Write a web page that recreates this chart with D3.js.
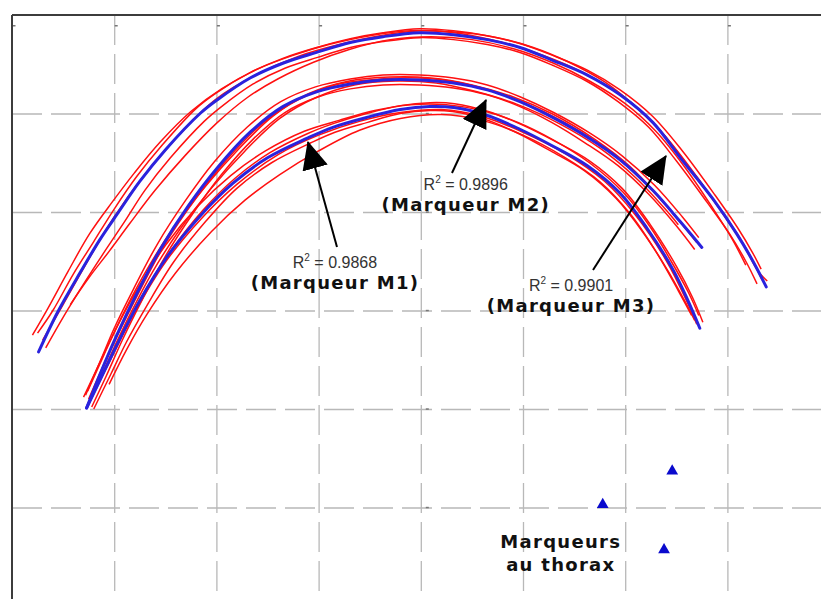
<!DOCTYPE html>
<html><head><meta charset="utf-8">
<script src="https://cdn.jsdelivr.net/npm/d3@7"></script>
<style>body{margin:0;background:#fff}svg{display:block}</style>
</head><body>
<svg id="chart" width="821" height="599"></svg>
<script>
// ---- data (grid units) ----
const xTicks = [0,1,2,3,4,5,6,7,8];
const yTicks = [0,1,2,3,4,5,6];

// fitted curves (blue)
const fitM1 = [[0.73,2.01],[0.91,2.40],[1.06,2.72],[1.25,3.10],[1.52,3.55],[1.85,3.97],[2.16,4.29],[2.50,4.55],[2.89,4.75],[3.14,4.86],[3.47,4.96],[3.80,5.04],[4.09,5.07],[4.32,5.06],[4.65,4.98],[4.97,4.84],[5.29,4.67],[5.63,4.47],[5.95,4.19],[6.21,3.84],[6.47,3.41],[6.61,3.11],[6.73,2.82]];
const fitM2 = [[0.73,2.01],[0.86,2.35],[1.03,2.76],[1.22,3.17],[1.45,3.62],[1.73,4.07],[2.01,4.45],[2.33,4.81],[2.65,5.07],[2.98,5.22],[3.31,5.30],[3.63,5.34],[3.99,5.34],[4.32,5.31],[4.65,5.24],[4.97,5.12],[5.29,4.96],[5.63,4.76],[5.95,4.53],[6.27,4.22],[6.54,3.90],[6.75,3.64]];
const fitM3 = [[0.26,2.58],[0.45,2.99],[0.67,3.39],[0.86,3.72],[1.03,3.98],[1.25,4.31],[1.50,4.63],[1.84,5.00],[2.01,5.14],[2.33,5.36],[2.65,5.51],[2.98,5.62],[3.31,5.72],[3.63,5.78],[3.99,5.82],[4.32,5.80],[4.65,5.75],[4.97,5.67],[5.29,5.54],[5.63,5.39],[5.95,5.19],[6.27,4.91],[6.54,4.55],[6.86,4.13],[7.09,3.78],[7.25,3.50],[7.38,3.24]];

// measured trajectories (red)
const tracesM1 = [
 [[0.76,2.08],[0.93,2.46],[1.09,2.78],[1.28,3.16],[1.55,3.60],[1.87,4.02],[2.18,4.34],[2.52,4.60],[2.90,4.80],[3.15,4.90],[3.47,5.00],[3.80,5.08],[4.09,5.11],[4.33,5.10],[4.66,5.02],[4.98,4.89],[5.31,4.72],[5.65,4.52],[5.97,4.24],[6.24,3.88],[6.50,3.45],[6.66,3.13],[6.76,2.88]],
 [[0.80,2.00],[0.97,2.36],[1.12,2.68],[1.32,3.05],[1.58,3.49],[1.90,3.91],[2.20,4.24],[2.54,4.50],[2.92,4.70],[3.16,4.81],[3.48,4.91],[3.80,5.00],[4.09,5.03],[4.31,5.02],[4.63,4.94],[4.95,4.80],[5.27,4.62],[5.60,4.42],[5.91,4.14],[6.17,3.80],[6.42,3.40],[6.57,3.12],[6.68,2.90]],
 [[0.95,2.25],[1.12,2.60],[1.32,2.96],[1.60,3.38],[1.95,3.80],[2.28,4.12],[2.62,4.38],[3.00,4.62],[3.40,4.83],[3.80,4.95],[4.20,4.99],[4.60,4.93],[5.00,4.78],[5.40,4.56],[5.75,4.31],[6.05,3.98],[6.30,3.60],[6.52,3.20],[6.65,2.95]],
 [[0.72,2.14],[0.88,2.52],[1.04,2.86],[1.24,3.24],[1.50,3.66],[1.82,4.06],[2.14,4.37],[2.48,4.62],[2.86,4.82],[3.20,4.93],[3.55,5.03],[3.90,5.09],[4.25,5.09],[4.60,5.03],[4.95,4.91],[5.30,4.73],[5.65,4.50],[5.98,4.20],[6.25,3.84],[6.45,3.50],[6.62,3.18],[6.72,2.95]],
 [[0.75,2.05],[0.95,2.47],[1.20,2.98],[1.50,3.49],[1.85,3.93],[2.20,4.28],[2.60,4.58],[3.00,4.78],[3.40,4.92],[3.80,5.01],[4.20,5.04],[4.60,4.97],[5.00,4.81],[5.40,4.60],[5.80,4.31],[6.10,3.97],[6.40,3.51],[6.60,3.10],[6.70,2.86]]
];
const tracesM2 = [
 [[0.70,2.12],[0.84,2.43],[1.00,2.82],[1.19,3.22],[1.42,3.67],[1.70,4.12],[1.98,4.51],[2.30,4.86],[2.63,5.12],[2.97,5.27],[3.31,5.35],[3.63,5.39],[3.99,5.39],[4.32,5.36],[4.65,5.29],[4.97,5.17],[5.30,5.01],[5.64,4.81],[5.97,4.57],[6.29,4.27],[6.56,3.95],[6.72,3.74]],
 [[0.78,2.02],[0.92,2.33],[1.08,2.70],[1.27,3.10],[1.50,3.55],[1.78,4.00],[2.05,4.38],[2.36,4.74],[2.67,5.01],[3.00,5.17],[3.31,5.25],[3.63,5.29],[3.99,5.29],[4.32,5.26],[4.65,5.19],[4.97,5.07],[5.28,4.91],[5.61,4.70],[5.93,4.47],[6.24,4.17],[6.50,3.86],[6.68,3.62]],
 [[0.74,2.18],[0.90,2.55],[1.08,2.95],[1.30,3.38],[1.58,3.84],[1.90,4.27],[2.20,4.62],[2.55,4.97],[2.90,5.20],[3.30,5.33],[3.70,5.37],[4.10,5.36],[4.50,5.29],[4.90,5.17],[5.30,4.99],[5.70,4.74],[6.05,4.46],[6.35,4.13],[6.58,3.85]],
 [[0.82,2.20],[0.98,2.58],[1.16,2.97],[1.38,3.40],[1.64,3.82],[1.95,4.24],[2.28,4.62],[2.62,4.95],[2.97,5.16],[3.35,5.29],[3.75,5.33],[4.15,5.31],[4.55,5.22],[4.95,5.09],[5.35,4.90],[5.75,4.65],[6.10,4.35],[6.40,4.02],[6.52,3.87]],
 [[0.75,2.10],[0.95,2.57],[1.20,3.10],[1.50,3.68],[1.80,4.14],[2.10,4.53],[2.45,4.90],[2.80,5.14],[3.20,5.30],[3.60,5.35],[4.00,5.36],[4.40,5.31],[4.80,5.19],[5.20,5.02],[5.60,4.79],[6.00,4.49],[6.30,4.18],[6.60,3.82],[6.70,3.69]]
];
const tracesM3 = [
 [[0.25,2.77],[0.40,3.00],[0.60,3.37],[0.80,3.70],[1.00,4.03],[1.22,4.36],[1.47,4.68],[1.80,5.05],[2.00,5.21],[2.32,5.41],[2.65,5.56],[2.98,5.67],[3.31,5.76],[3.63,5.82],[3.99,5.86],[4.32,5.84],[4.65,5.79],[4.97,5.71],[5.29,5.59],[5.63,5.44],[5.95,5.24],[6.27,4.97],[6.56,4.62],[6.88,4.17],[7.10,3.84],[7.25,3.58],[7.33,3.42]],
 [[0.33,2.62],[0.50,2.93],[0.72,3.30],[0.92,3.62],[1.10,3.90],[1.30,4.22],[1.55,4.55],[1.88,4.92],[2.05,5.07],[2.36,5.30],[2.67,5.46],[2.99,5.57],[3.31,5.67],[3.63,5.73],[3.99,5.77],[4.32,5.75],[4.65,5.70],[4.97,5.62],[5.29,5.49],[5.62,5.33],[5.93,5.12],[6.23,4.86],[6.50,4.52],[6.80,4.10],[7.02,3.78],[7.18,3.50],[7.29,3.27]],
 [[0.57,3.06],[0.75,3.33],[0.95,3.60],[1.15,3.88],[1.40,4.22],[1.70,4.58],[2.00,4.90],[2.30,5.16],[2.60,5.35],[2.95,5.52],[3.30,5.65],[3.70,5.75],[4.10,5.78],[4.50,5.75],[4.90,5.66],[5.30,5.51],[5.65,5.33],[6.00,5.10],[6.30,4.82],[6.58,4.46],[6.85,4.05],[7.05,3.72],[7.18,3.46]],
 [[0.20,2.75],[0.35,3.02],[0.55,3.40],[0.76,3.78],[0.98,4.10],[1.20,4.40],[1.45,4.71],[1.75,5.02],[2.05,5.25],[2.40,5.45],[2.75,5.59],[3.10,5.70],[3.50,5.79],[3.90,5.84],[4.30,5.83],[4.70,5.78],[5.10,5.67],[5.45,5.52],[5.80,5.32],[6.10,5.07],[6.40,4.76],[6.70,4.36],[6.95,3.99],[7.15,3.68],[7.30,3.40],[7.39,3.30]],
 [[0.30,2.70],[0.50,3.06],[0.75,3.52],[1.00,3.95],[1.30,4.38],[1.65,4.80],[2.00,5.15],[2.40,5.40],[2.80,5.58],[3.20,5.70],[3.60,5.79],[4.00,5.84],[4.40,5.81],[4.80,5.72],[5.20,5.59],[5.60,5.41],[6.00,5.16],[6.35,4.82],[6.70,4.34],[7.00,3.93],[7.20,3.60],[7.34,3.31]]
];

const rSquared = ["0.9868","0.9896","0.9901"];
const markerNames = ["(Marqueur M1)","(Marqueur M2)","(Marqueur M3)"];
const thoraxMarkers = [[6.46,1.37],[5.78,1.03],[6.38,0.57]];
const thoraxLabel = ["Marqueurs","au thorax"];

// ---- layout ----
const svg = d3.select("#chart");
const x = d3.scaleLinear().domain([0,8]).range([12, 829.6]);
const y = d3.scaleLinear().domain([0,6]).range([606, 15]);

// grid
const gx = svg.append("g").attr("transform","translate(0,15)")
  .call(d3.axisTop(x).tickValues(xTicks.slice(1,8)).tickSize(-600).tickFormat(""));
const gy = svg.append("g").attr("transform","translate(12,0)")
  .call(d3.axisLeft(y).tickValues(yTicks.slice(1,6)).tickSize(-820).tickFormat(""));
[gx,gy].forEach(g=>{
  g.select(".domain").remove();
  g.selectAll(".tick line").attr("stroke","#b8b8b8").attr("stroke-width",1.3).attr("stroke-dasharray","30,9");
});

// tiny tick marks
svg.append("g").selectAll("rect").data(xTicks.slice(0,8)).join("rect")
  .attr("x",d=>x(d)+0.5).attr("y",25).attr("width",3).attr("height",1.5).attr("fill","#777");
svg.append("g").selectAll("rect").data(yTicks.slice(1,6)).join("rect")
  .attr("x",x(4)+5).attr("y",d=>y(d)-0.7).attr("width",3).attr("height",1.5).attr("fill","#777");

// frame
svg.append("line").attr("x1",x(0)).attr("x2",821).attr("y1",y(6)).attr("y2",y(6)).attr("stroke","#3c3c3c").attr("stroke-width",2);
svg.append("line").attr("x1",x(0)).attr("x2",x(0)).attr("y1",y(6)).attr("y2",599).attr("stroke","#3c3c3c").attr("stroke-width",2);

const line = d3.line().x(d=>x(d[0])).y(d=>y(d[1])).curve(d3.curveCatmullRom.alpha(0.5));

const allTraces = [...tracesM1, ...tracesM2, ...tracesM3];
svg.append("g").selectAll("path").data(allTraces).join("path")
  .attr("d",line).attr("fill","none").attr("stroke","#ff1010").attr("stroke-width",1.5);

svg.append("g").selectAll("path").data([fitM1,fitM2,fitM3]).join("path")
  .attr("d",line).attr("fill","none").attr("stroke","#2a22dd").attr("stroke-width",3).attr("stroke-linecap","round");

// arrows
const defs = svg.append("defs");
defs.append("marker").attr("id","head").attr("viewBox","0 0 28 26").attr("refX",27).attr("refY",13)
  .attr("markerWidth",28).attr("markerHeight",26).attr("markerUnits","userSpaceOnUse").attr("orient","auto")
  .append("path").attr("d","M0,0L28,13L0,26Z").attr("fill","#000");
const arrows = [
  {from:[3.18,3.645], to:[2.896,4.711]},
  {from:[4.305,4.396], to:[4.638,5.137]},
  {from:[5.685,3.411], to:[6.399,4.569]}
];
svg.append("g").selectAll("line").data(arrows).join("line")
  .attr("x1",d=>x(d.from[0])).attr("y1",d=>y(d.from[1]))
  .attr("x2",d=>x(d.to[0])).attr("y2",d=>y(d.to[1]))
  .attr("stroke","#000").attr("stroke-width",2).attr("marker-end","url(#head)");

// labels
const labelAt = [{cx:3.16, r:3.43, m:3.22},{cx:4.44, r:4.22, m:4.01},{cx:5.47, r:3.20, m:2.98}];
labelAt.forEach((p,i)=>{
  const t = svg.append("text").attr("x",x(p.cx)).attr("y",y(p.r)).attr("text-anchor","middle")
    .attr("font-family","'Liberation Sans', Arial, sans-serif").attr("font-size",16).attr("fill","#333");
  t.append("tspan").text("R");
  t.append("tspan").attr("font-size",10).attr("dy",-7).text("2");
  t.append("tspan").attr("dy",7).text(" = " + rSquared[i]);
  svg.append("text").attr("x",x(p.cx)).attr("y",y(p.m)).attr("text-anchor","middle")
    .attr("font-family","'DejaVu Sans', Verdana, sans-serif").attr("font-weight","bold")
    .attr("font-size",18).attr("letter-spacing",1.3).attr("fill","#111").text(markerNames[i]);
});

// thorax markers
svg.append("g").selectAll("path").data(thoraxMarkers).join("path")
  .attr("transform",d=>`translate(${x(d[0])},${y(d[1])})`)
  .attr("d",d3.symbol(d3.symbolTriangle,60)).attr("fill","#0a0acd");
thoraxLabel.forEach((s,i)=>{
  svg.append("text").attr("x",x(5.37)).attr("y",y(0.59 - i*0.235)).attr("text-anchor","middle")
    .attr("font-family","'DejaVu Sans', Verdana, sans-serif").attr("font-weight","bold")
    .attr("font-size",18).attr("letter-spacing",1.3).attr("fill","#111").text(s);
});
</script>
</body></html>
